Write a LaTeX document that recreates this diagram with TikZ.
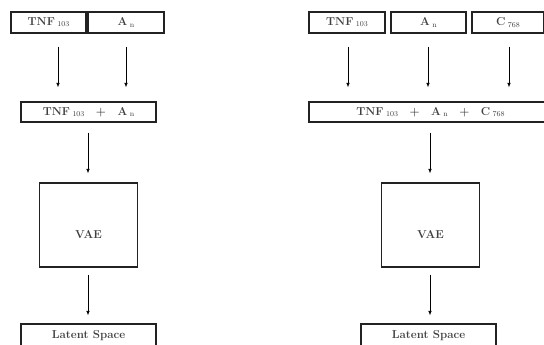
\documentclass[tikz,border=0pt]{standalone}
\usetikzlibrary{arrows.meta}
\definecolor{txt}{HTML}{404040}
\definecolor{edge}{HTML}{222222}
\newcommand{\mysub}[1]{\hspace{2.5pt}\raisebox{-1.2pt}{\fontsize{7.5}{9}\selectfont\mdseries #1}}
\begin{document}
\begin{tikzpicture}[x=1pt,y=-1pt,
  box/.style={draw=edge, line width=1.1pt, rectangle, inner sep=0pt, text=txt,
    font=\fontsize{11.5}{13}\selectfont\bfseries},
  vaetext/.style={text=txt, font=\fontsize{11.5}{13}\selectfont\bfseries, inner sep=0pt},
  arr/.style={draw=black, line width=0.7pt, -{Latex[length=4.5pt,width=3.5pt]}}]
\useasboundingbox (0,0) rectangle (544,345);
% left diagram
\node[box, minimum width=75pt, minimum height=21pt] (tnf1) at (48.5,22.5) {TNF\mysub{103}};
\node[box, minimum width=76pt, minimum height=21pt] (an1) at (126,22.5) {A\mysub{n}};
\node[box, minimum width=135pt, minimum height=20pt] (sum1) at (88.5,112) {TNF\mysub{103}\hspace{1em}+\hspace{1em}A\mysub{n}};
\node[box, minimum width=98pt, minimum height=84pt] (vae1) at (88.5,225) {};
\node[vaetext] (vae1t) at (88.5,234.5) {VAE};
\node[box, minimum width=135pt, minimum height=24pt] (lat1) at (88.5,336) {Latent Space};
\coordinate (la) at (58,0);
\coordinate (lb) at (126,0);
\coordinate (lc) at (88,0);
\draw[arr, shorten <=13pt, shorten >=14pt] (tnf1.south -| la) -- (sum1.north -| la);
\draw[arr, shorten <=13pt, shorten >=14pt] (an1.south -| lb) -- (sum1.north -| lb);
\draw[arr, shorten <=10pt, shorten >=9pt] (sum1.south -| lc) -- (vae1.north -| lc);
\draw[arr, shorten <=7pt, shorten >=8pt] (vae1.south -| lc) -- (lat1.north -| lc);
% right diagram
\node[box, minimum width=76pt, minimum height=21pt] (tnf2) at (347,22.5) {TNF\mysub{103}};
\node[box, minimum width=75pt, minimum height=21pt] (an2) at (428.5,22.5) {A\mysub{n}};
\node[box, minimum width=72pt, minimum height=21pt] (c2) at (508,22.5) {C\mysub{768}};
\node[box, minimum width=243pt, minimum height=20pt] (sum2) at (430.5,112) {TNF\mysub{103}\hspace{1em}+\hspace{1em}A\mysub{n}\hspace{1em}+\hspace{1em}C\mysub{768}};
\node[box, minimum width=98pt, minimum height=84pt] (vae2) at (430.5,225) {};
\node[vaetext] (vae2t) at (430.5,234.5) {VAE};
\node[box, minimum width=135pt, minimum height=24pt] (lat2) at (428.5,336) {Latent Space};
\coordinate (ra) at (348,0);
\coordinate (rb) at (428,0);
\coordinate (rc) at (509,0);
\coordinate (rd) at (430,0);
\draw[arr, shorten <=13pt, shorten >=14pt] (tnf2.south -| ra) -- (sum2.north -| ra);
\draw[arr, shorten <=13pt, shorten >=14pt] (an2.south -| rb) -- (sum2.north -| rb);
\draw[arr, shorten <=13pt, shorten >=14pt] (c2.south -| rc) -- (sum2.north -| rc);
\draw[arr, shorten <=10pt, shorten >=9pt] (sum2.south -| rd) -- (vae2.north -| rd);
\draw[arr, shorten <=7pt, shorten >=8pt] (vae2.south -| rd) -- (lat2.north -| rd);
\end{tikzpicture}
\end{document}
